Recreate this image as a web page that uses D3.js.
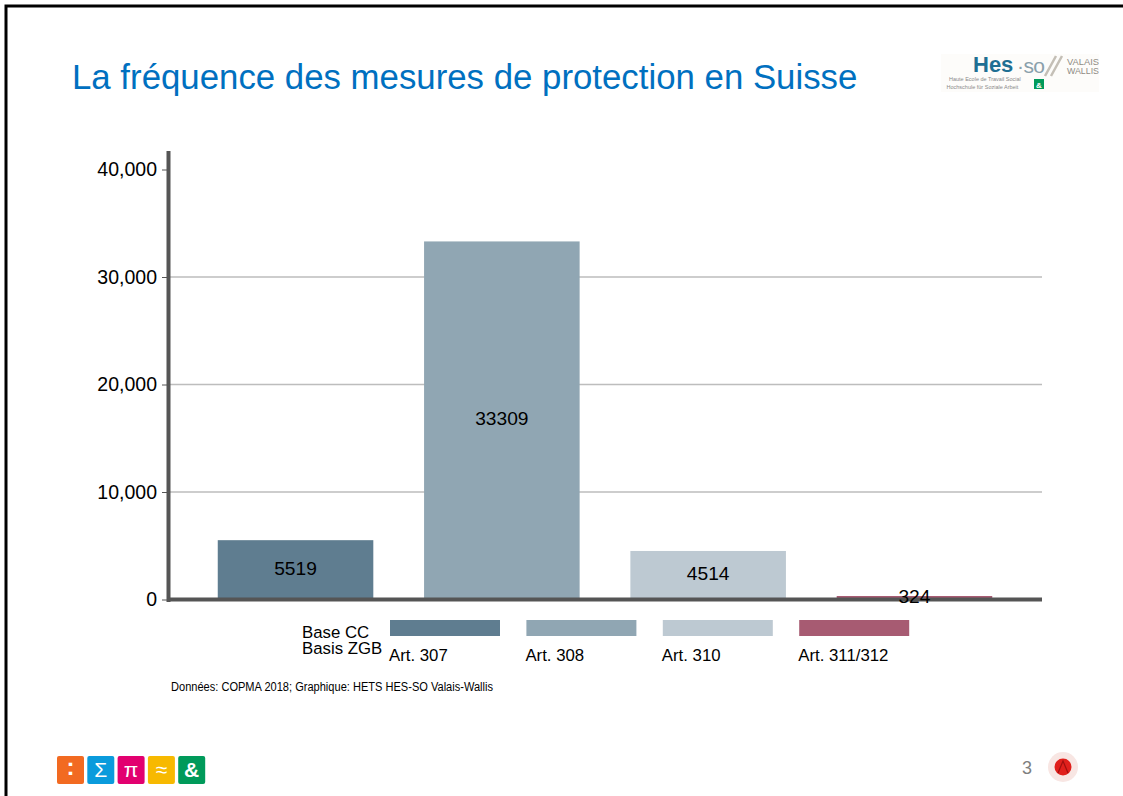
<!DOCTYPE html>
<html>
<head>
<meta charset="utf-8">
<script src="https://cdn.jsdelivr.net/npm/d3@7"></script>
<style>
html, body { margin: 0; padding: 0; background: #fff; overflow: hidden; }
text { font-family: "Liberation Sans", Arial, sans-serif; }
</style>
</head>
<body>
<script>
// values
const articles = ["Art. 307", "Art. 308", "Art. 310", "Art. 311/312"];
const counts = [5519, 33309, 4514, 324];
const barColors = ["#5f7d90", "#90a6b3", "#bdc9d2", "#a75b72"];
const yTicks = [0, 10000, 20000, 30000, 40000];
const baseLabels = ["Base CC", "Basis ZGB"];
const logoGlyphs = [":", "Σ", "π", "≈", "&"];
const logoColors = ["#f26a21", "#0a9bdc", "#e2006f", "#f7b900", "#009a5a"];

const svg = d3.select("body").append("svg")
    .attr("width", 1123)
    .attr("height", 796);

svg.append("rect").attr("width", 1123).attr("height", 796).attr("fill", "#fff");

// slide frame
svg.append("path")
    .attr("d", "M6,796V6H1123")
    .attr("fill", "none")
    .attr("stroke", "#000")
    .attr("stroke-width", 3);

svg.append("text")
    .attr("x", 72).attr("y", 89)
    .attr("font-size", 34.8)
    .attr("fill", "#0070c0")
    .text("La fréquence des mesures de protection en Suisse");

const x = d3.scaleBand()
    .domain(articles)
    .range([167, 1043])
    .paddingInner(0.246)
    .paddingOuter(0.246);

const y = d3.scaleLinear()
    .domain([0, 40000])
    .range([599.5, 169.5]);

// gridlines under the bars
svg.append("g")
    .selectAll("line")
    .data(yTicks.slice(1, 4))
    .enter()
    .append("line")
    .attr("x1", 168)
    .attr("x2", 1042)
    .attr("y1", d => y(d))
    .attr("y2", d => y(d))
    .attr("stroke", "#bdbdbd")
    .attr("stroke-width", 1.3);

svg.append("g")
    .selectAll("rect")
    .data(counts)
    .enter()
    .append("rect")
    .attr("x", (d, i) => x(articles[i]))
    .attr("y", d => y(d))
    .attr("width", x.bandwidth())
    .attr("height", d => y(0) - y(d))
    .attr("fill", (d, i) => barColors[i]);

// y axis, the thick line is drawn by hand so it can run past 40,000
const yAxis = svg.append("g")
    .attr("transform", "translate(168,0)")
    .call(d3.axisLeft(y).tickValues(yTicks).tickFormat(d3.format(",")).tickSize(6).tickPadding(5));
yAxis.select(".domain").remove();
yAxis.selectAll("line").attr("stroke", "#555").attr("stroke-width", 1);
yAxis.selectAll("text")
    .attr("font-family", '"Liberation Sans", Arial, sans-serif')
    .attr("font-size", 19.5)
    .attr("fill", "#000");

svg.append("line")
    .attr("x1", 168.5).attr("x2", 168.5)
    .attr("y1", 151).attr("y2", 602)
    .attr("stroke", "#555")
    .attr("stroke-width", 4);

svg.append("line")
    .attr("x1", 167).attr("x2", 1042)
    .attr("y1", y(0)).attr("y2", y(0))
    .attr("stroke", "#555")
    .attr("stroke-width", 4);

// value labels sit in the middle of each bar
svg.append("g")
    .selectAll("text")
    .data(counts)
    .enter()
    .append("text")
    .attr("x", (d, i) => x(articles[i]) + x.bandwidth() / 2)
    .attr("y", d => (y(d) + y(0)) / 2 + 5)
    .attr("text-anchor", "middle")
    .attr("font-size", 19.2)
    .attr("fill", "#000")
    .text(d => d);

// legend strip below the chart
const legend = svg.append("g")
    .selectAll("g")
    .data(articles)
    .enter()
    .append("g")
    .attr("transform", (d, i) => "translate(" + (390 + i * 136.4) + ",620)");
legend.append("rect")
    .attr("width", 110)
    .attr("height", 16)
    .attr("fill", (d, i) => barColors[i]);
legend.append("text")
    .attr("x", -1).attr("y", 41)
    .attr("font-size", 16.8)
    .attr("fill", "#000")
    .text(d => d);

svg.append("g")
    .selectAll("text")
    .data(baseLabels)
    .enter()
    .append("text")
    .attr("x", 302)
    .attr("y", (d, i) => 638 + i * 16)
    .attr("font-size", 16.8)
    .attr("fill", "#000")
    .text(d => d);

svg.append("text")
    .attr("x", 171).attr("y", 691)
    .attr("font-size", 12)
    .attr("textLength", 322)
    .attr("lengthAdjust", "spacingAndGlyphs")
    .attr("fill", "#000")
    .text("Données: COPMA 2018; Graphique: HETS HES-SO Valais-Wallis");

// HES-SO logo, top right
const hes = svg.append("g");
hes.append("rect")
    .attr("x", 941).attr("y", 54).attr("width", 158).attr("height", 38)
    .attr("fill", "#fdfcfa");
hes.append("text")
    .attr("x", 973).attr("y", 72)
    .attr("font-size", 22).attr("font-weight", "bold")
    .attr("fill", "#1f6f93")
    .text("Hes");
hes.append("text")
    .attr("x", 1017).attr("y", 73)
    .attr("font-size", 21)
    .attr("fill", "#8aa0ab")
    .attr("textLength", 28)
    .text("·so");
hes.append("path")
    .attr("d", "M1045,76L1056,56M1051,76L1062,56")
    .attr("stroke", "#c4bfb6")
    .attr("stroke-width", 2.5);
hes.selectAll(".vw")
    .data(["VALAIS", "WALLIS"])
    .enter()
    .append("text")
    .attr("class", "vw")
    .attr("x", 1067)
    .attr("y", (d, i) => 65 + i * 8.5)
    .attr("font-size", 9)
    .attr("textLength", 32)
    .attr("lengthAdjust", "spacingAndGlyphs")
    .attr("fill", "#8f8b84")
    .text(d => d);
hes.selectAll(".hs")
    .data(["Haute Ecole de Travail Social", "Hochschule für Soziale Arbeit"])
    .enter()
    .append("text")
    .attr("class", "hs")
    .attr("x", (d, i) => 949 - i * 2.5)
    .attr("y", (d, i) => 81 + i * 8)
    .attr("font-size", 5.5)
    .attr("fill", "#8a8a8a")
    .text(d => d);
hes.append("rect")
    .attr("x", 1034).attr("y", 79).attr("width", 10).attr("height", 10)
    .attr("fill", "#009a5a");
hes.append("text")
    .attr("x", 1039).attr("y", 87.5)
    .attr("text-anchor", "middle")
    .attr("font-size", 8).attr("font-weight", "bold")
    .attr("fill", "#fff")
    .text("&");

// five coloured squares, bottom left
const tiles = svg.append("g")
    .selectAll("g")
    .data(logoGlyphs)
    .enter()
    .append("g")
    .attr("transform", (d, i) => "translate(" + (57 + i * 30.3) + ",756)");
tiles.append("rect")
    .attr("width", 27).attr("height", 28).attr("rx", 2)
    .attr("fill", (d, i) => logoColors[i]);
tiles.append("text")
    .attr("x", 13.5).attr("y", d => d === ":" ? 19 : 21)
    .attr("text-anchor", "middle")
    .attr("font-size", d => d === ":" ? 24 : 21)
    .attr("font-family", (d, i) => i === 4 ? '"Liberation Sans", Arial, sans-serif' : '"DejaVu Sans", sans-serif')
    .attr("font-weight", d => d === ":" || d === "&" ? "bold" : "normal")
    .attr("fill", "#fff")
    .text(d => d);

// page number and round seal, bottom right
svg.append("text")
    .attr("x", 1022).attr("y", 774)
    .attr("font-size", 18)
    .attr("fill", "#7f7f7f")
    .text("3");
svg.append("circle").attr("cx", 1063).attr("cy", 767).attr("r", 15).attr("fill", "#f8e6e3");
svg.append("circle").attr("cx", 1063).attr("cy", 767).attr("r", 8.5).attr("fill", "#e0201c");
svg.append("path")
    .attr("d", "M1058,773L1063,761L1068,773")
    .attr("fill", "none")
    .attr("stroke", "#a01010")
    .attr("stroke-width", 1.2);
</script>
</body>
</html>
